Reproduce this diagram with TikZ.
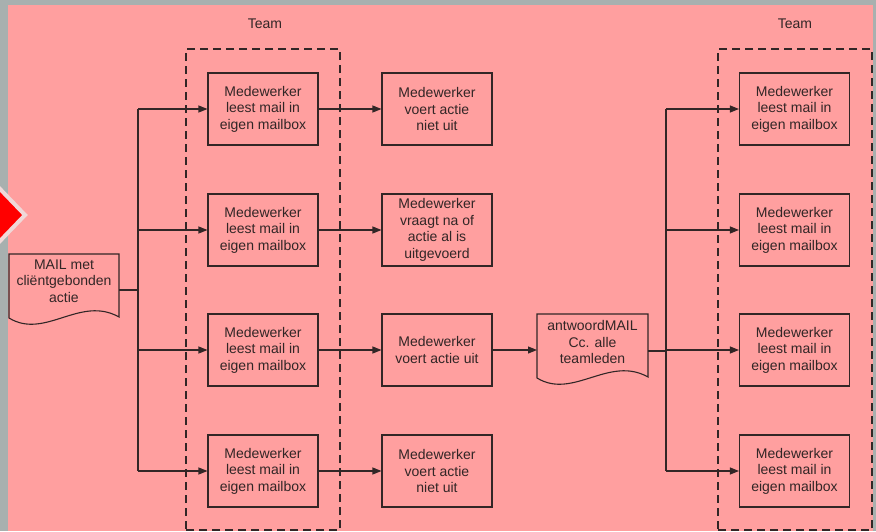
\documentclass[tikz,border=0pt]{standalone}
\usepackage{fontspec}
\setmainfont{Liberation Sans}
\usetikzlibrary{arrows.meta,calc}
\definecolor{bg}{RGB}{255,159,159}
\definecolor{frame}{RGB}{168,176,175}
\definecolor{ink}{RGB}{50,38,38}
\definecolor{diamedge}{RGB}{240,216,216}
\begin{document}
\begin{tikzpicture}[x=1pt,y=-1pt,
  txt/.style={text=ink, align=center, font=\fontsize{14}{16.5}\selectfont},
  box/.style={txt, draw=ink, line width=1.1pt, minimum width=110pt, minimum height=72pt, inner sep=0pt},
  docnode/.style={minimum width=110pt, minimum height=72pt, inner sep=0pt},
  teambox/.style={draw=ink, line width=1.1pt, dash pattern=on 8pt off 5pt, minimum width=154pt, minimum height=481pt, inner sep=0pt},
  line/.style={draw=ink, line width=1.1pt},
  arr/.style={line, -{Triangle[length=9pt,width=7pt]}}
]
\useasboundingbox (0,0) rectangle (876,531);
\fill[frame] (0,0) rectangle (876,531);
\fill[bg] (8,5) rectangle (873,531);
\filldraw[fill=red, draw=diamedge, line width=4pt, line join=miter] (0,189) -- (25,215) -- (0,241) -- (-26,215) -- cycle;

% team boxes
\node[teambox] (team1) at (263,289.5) {};
\node[teambox] (team2) at (795,289.5) {};
\node[txt] (teamlabel1) at (265,24) {Team};
\node[txt] (teamlabel2) at (795,24) {Team};

% left column
\node[box] (L1) at (263,109) {Medewerker\\leest mail in\\eigen mailbox};
\node[box] (L2) at (263,230) {Medewerker\\leest mail in\\eigen mailbox};
\node[box] (L3) at (263,350) {Medewerker\\leest mail in\\eigen mailbox};
\node[box] (L4) at (263,471) {Medewerker\\leest mail in\\eigen mailbox};

% middle column
\node[box] (M1) at (437,109) {Medewerker\\voert actie\\niet uit};
\node[box] (M2) at (437,230) {Medewerker\\vraagt na of\\actie al is\\uitgevoerd};
\node[box] (M3) at (437,350) {Medewerker\\voert actie uit};
\node[box] (M4) at (437,471) {Medewerker\\voert actie\\niet uit};

% right column
\node[box] (R1) at (794.5,109) {Medewerker\\leest mail in\\eigen mailbox};
\node[box] (R2) at (794.5,230) {Medewerker\\leest mail in\\eigen mailbox};
\node[box] (R3) at (794.5,350) {Medewerker\\leest mail in\\eigen mailbox};
\node[box] (R4) at (794.5,471) {Medewerker\\leest mail in\\eigen mailbox};

% documents
\draw[line] (9,254) -- (119,254) -- (119,317) .. controls (80,295) and (45,340) .. (9,318) -- cycle;
\node[docnode, label={[txt,yshift=9pt]center:MAIL met\\cliëntgebonden\\actie}] (mail) at (64,290) {};
\draw[line] (537,314) -- (648,314) -- (648,377) .. controls (609,355) and (573,400) .. (537,378) -- cycle;
\node[docnode, label={[txt,yshift=9pt]center:antwoordMAIL\\Cc. alle\\teamleden}] (ant) at (592.5,351) {};

% left trunk
\coordinate (tl) at (138,109);
\coordinate (bl) at (138,471);
\draw[line] (tl) -- (bl);
\draw[line] (119,290) -- (mail.east -| tl);
\draw[arr] (tl) -- (L1);
\draw[arr] (L2 -| tl) -- (L2);
\draw[arr] (L3 -| tl) -- (L3);
\draw[arr] (bl) -- (L4);

% left to middle
\draw[arr] (L1) -- (M1);
\draw[arr] (L2) -- (M2);
\draw[arr] (L3) -- (M3);
\draw[arr] (L4) -- (M4);
\draw[arr] (M3) -- (537,350);

% right trunk
\coordinate (tr) at (666,109);
\coordinate (br) at (666,471);
\draw[line] (tr) -- (br);
\draw[line] (648,351) -- (ant.east -| tr);
\draw[arr] (tr) -- (R1);
\draw[arr] (R2 -| tr) -- (R2);
\draw[arr] (R3 -| tr) -- (R3);
\draw[arr] (br) -- (R4);
\end{tikzpicture}
\end{document}
